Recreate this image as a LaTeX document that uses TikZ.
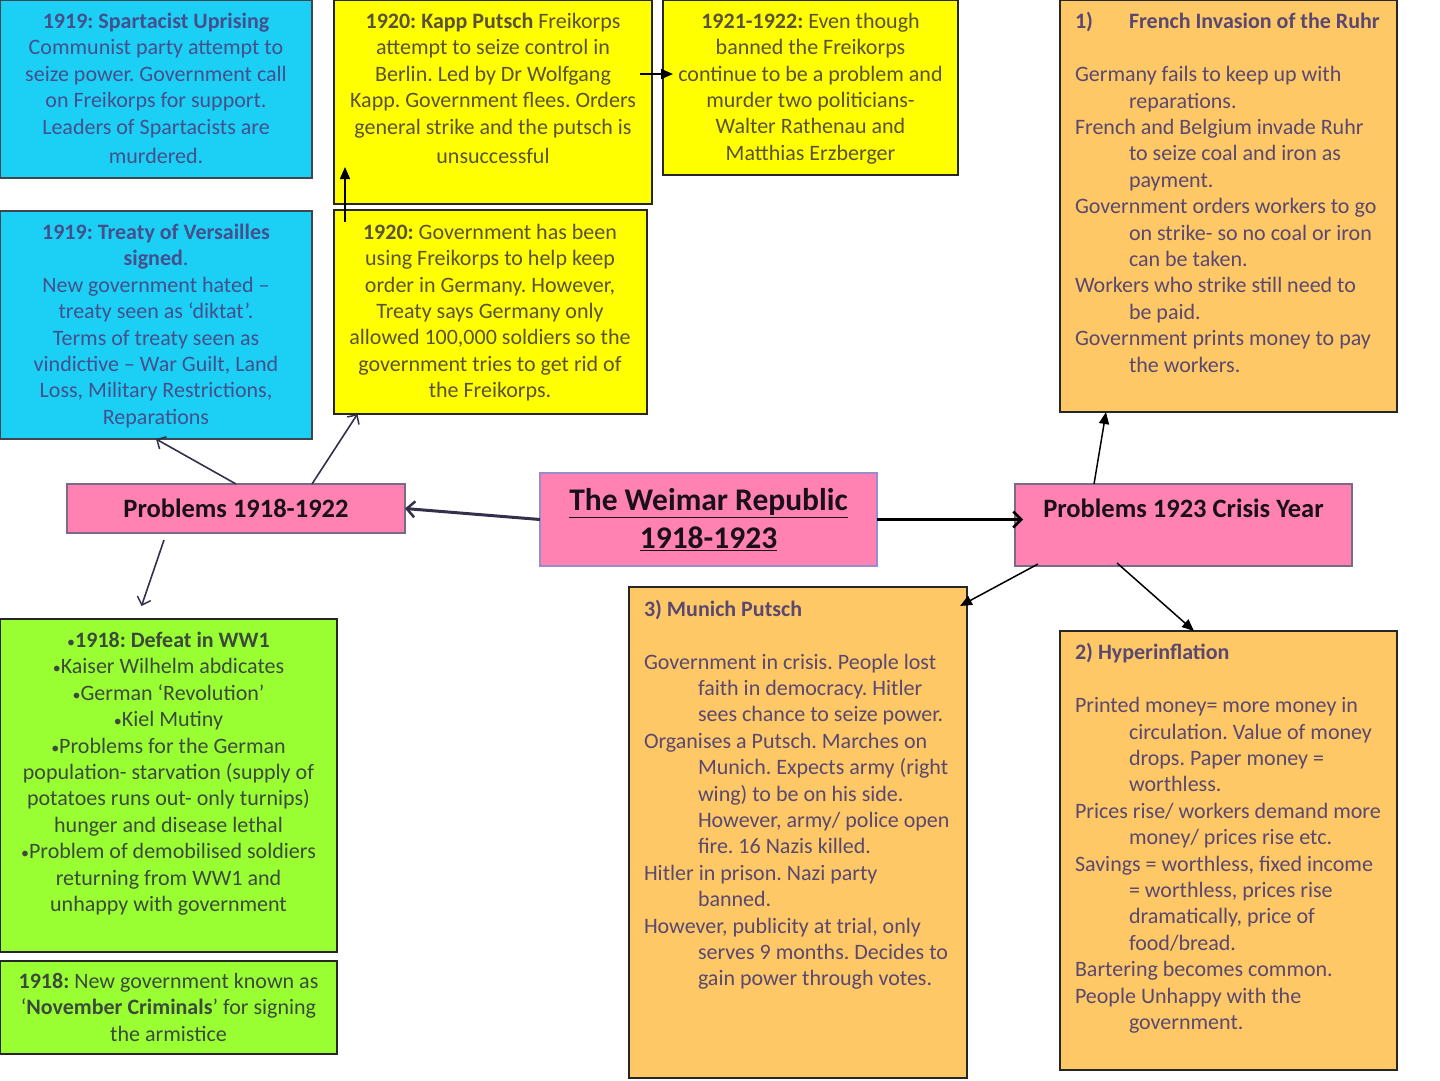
\documentclass[tikz,border=0pt]{standalone}
\usepackage{fontspec}
\setmainfont{Carlito}
\usetikzlibrary{arrows.meta}
\frenchspacing
\definecolor{cyanbox}{HTML}{1CCFF5}
\definecolor{yelbox}{HTML}{FFFF00}
\definecolor{orabox}{HTML}{FDC865}
\definecolor{grnbox}{HTML}{99FF33}
\definecolor{pinkbox}{HTML}{FF82B2}
\definecolor{cyantext}{HTML}{44508C}
\definecolor{yeltext}{HTML}{5A5236}
\definecolor{oratext}{HTML}{5A4870}
\definecolor{grntext}{HTML}{3C4A3C}
\definecolor{headtext}{HTML}{1A0F1A}
\definecolor{arrowdark}{HTML}{34304A}
\definecolor{pinkborder}{HTML}{7A6A8A}
\definecolor{lavborder}{HTML}{9A8ACF}
\tikzset{
  box/.style={draw=black!85, line width=1.5pt, rectangle, inner sep=0pt, outer sep=0pt, anchor=north west},
  txt/.style={inner sep=0pt, outer sep=0pt, font=\fontsize{22}{26.4}\selectfont\frenchspacing},
  ctxt/.style={txt, align=center, anchor=north},
  ltxt/.style={txt, align=left, anchor=north west},
  openarrow/.style={-{Straight Barb[length=7pt,width=14pt,line width=1.5pt]}, line width=1.6pt, draw=arrowdark},
  thickarrow/.style={-{Straight Barb[length=8pt,width=16pt,line width=2.5pt]}, line width=3pt},
  filledarrow/.style={-{Triangle[length=12pt,width=10pt]}, line width=1.5pt, draw=black}
}
\newcommand{\ind}{\hspace*{54pt}}
\newcommand{\smbul}{{\fontsize{16}{16}\selectfont •}}
\begin{document}
\begin{tikzpicture}[x=1pt,y=-1pt]
\useasboundingbox[fill=white] (0,0) rectangle (1440,1080);

% ---- boxes ----
\node[box, fill=cyanbox, draw=black!80!cyan, minimum width=312pt, minimum height=178pt] (b1) at (0,0) {};
\node[box, fill=cyanbox, draw=black!80!cyan, minimum width=312pt, minimum height=228pt] (b2) at (0,211) {};
\node[box, fill=yelbox, minimum width=318pt, minimum height=204pt] (y1) at (334,0) {};
\node[box, fill=yelbox, minimum width=295pt, minimum height=175pt] (y2) at (663,0) {};
\node[box, fill=yelbox, minimum width=313pt, minimum height=204pt] (y3) at (334,210) {};
\node[box, fill=orabox, minimum width=337pt, minimum height=412pt] (o1) at (1060,0) {};
\node[box, fill=orabox, minimum width=338pt, minimum height=491pt] (mu) at (629,587) {};
\node[box, fill=orabox, minimum width=337pt, minimum height=439pt] (hy) at (1060,631) {};
\node[box, fill=grnbox, minimum width=337pt, minimum height=333pt] (g1) at (0,619) {};
\node[box, fill=grnbox, minimum width=337pt, minimum height=93pt] (g2) at (0,961) {};
\node[box, fill=pinkbox, draw=pinkborder, minimum width=338pt, minimum height=49pt,
      font=\fontsize{26.5}{30}\selectfont\bfseries, text=headtext] (p1) at (67,484) {Problems 1918-1922};
\node[box, fill=pinkbox, draw=lavborder, minimum width=337pt, minimum height=93pt, align=center,
      font=\fontsize{31.5}{38}\selectfont\bfseries, text=headtext] (c) at (540,473)
      {\underline{The Weimar Republic}\\\underline{1918-1923}};
\node[box, fill=pinkbox, draw=pinkborder, minimum width=337pt, minimum height=82pt] (p2) at (1015,484) {};
\node[txt, font=\fontsize{26.5}{30}\selectfont\bfseries, text=headtext] (p2t) at (1183.5,508) {Problems 1923 Crisis Year};

% ---- texts ----
\node[ctxt, text=cyantext] (b1t) at (156,13) {\textbf{1919: Spartacist Uprising}\\
Communist party attempt to\\
seize power. Government call\\
on Freikorps for support.\\
Leaders of Spartacists are\\[3pt]
murdered.};
\node[ctxt, text=cyantext] (b2t) at (156,224) {\textbf{1919: Treaty of Versailles}\\
\textbf{signed}.\\
New government hated –\\
treaty seen as ‘diktat’.\\
Terms of treaty seen as\\
vindictive – War Guilt, Land\\
Loss, Military Restrictions,\\
Reparations};
\node[ctxt, text=yeltext] (y1t) at (493,13) {\textbf{1920: Kapp Putsch} Freikorps\\
attempt to seize control in\\
Berlin. Led by Dr Wolfgang\\
Kapp. Government flees. Orders\\
general strike and the putsch is\\[3pt]
unsuccessful};
\node[ctxt, text=yeltext] (y2t) at (810.5,13) {\textbf{1921-1922:} Even though\\
banned the Freikorps\\
continue to be a problem and\\
murder two politicians-\\
Walter Rathenau and\\
Matthias Erzberger};
\node[ctxt, text=yeltext] (y3t) at (490,224) {\textbf{1920:} Government has been\\
using Freikorps to help keep\\
order in Germany. However,\\
Treaty says Germany only\\
allowed 100,000 soldiers so the\\
government tries to get rid of\\
the Freikorps.};
\node[ltxt, text=oratext] (o1t) at (1075,12.5) {\makebox[54pt][l]{\textbf{1)}}\textbf{French Invasion of the Ruhr}\\[26.4pt]
Germany fails to keep up with\\
\ind reparations.\\
French and Belgium invade Ruhr\\
\ind to seize coal and iron as\\
\ind payment.\\
Government orders workers to go\\
\ind on strike- so no coal or iron\\
\ind can be taken.\\
Workers who strike still need to\\
\ind be paid.\\
Government prints money to pay\\
\ind the workers.};
\node[ltxt, text=oratext] (mut) at (644,600) {\textbf{3) Munich Putsch}\\[26.4pt]
Government in crisis. People lost\\
\ind faith in democracy. Hitler\\
\ind sees chance to seize power.\\
Organises a Putsch. Marches on\\
\ind Munich. Expects army (right\\
\ind wing) to be on his side.\\
\ind However, army/ police open\\
\ind fire. 16 Nazis killed.\\
Hitler in prison. Nazi party\\
\ind banned.\\
However, publicity at trial, only\\
\ind serves 9 months. Decides to\\
\ind gain power through votes.};
\node[ltxt, text=oratext] (hyt) at (1075,643.5) {\textbf{2) Hyperinflation}\\[26.4pt]
Printed money= more money in\\
\ind circulation. Value of money\\
\ind drops. Paper money =\\
\ind worthless.\\
Prices rise/ workers demand more\\
\ind money/ prices rise etc.\\
Savings = worthless, fixed income\\
\ind = worthless, prices rise\\
\ind dramatically, price of\\
\ind food/bread.\\
Bartering becomes common.\\
People Unhappy with the\\
\ind government.};
\node[ctxt, text=grntext] (g1t) at (168.5,632) {\smbul\textbf{1918: Defeat in WW1}\\
\smbul Kaiser Wilhelm abdicates\\
\smbul German ‘Revolution’\\
\smbul Kiel Mutiny\\
\smbul Problems for the German\\
population- starvation (supply of\\
potatoes runs out- only turnips)\\
hunger and disease lethal\\
\smbul Problem of demobilised soldiers\\
returning from WW1 and\\
unhappy with government};
\node[ctxt, text=grntext] (g2t) at (168.5,973) {\textbf{1918:} New government known as\\
‘\textbf{November Criminals}’ for signing\\
the armistice};

% ---- connectors ----
\draw[thickarrow, draw=arrowdark] (c.west) -- (p1.east);
\draw[thickarrow, draw=black] (c.east) -- ([xshift=8pt]c.east -| p2.west);
\draw[openarrow] (p1.north) -- (b2.south);
\draw[openarrow] ([xshift=76pt]p1.north) -- ([xshift=-133pt]y3.south);
\draw[openarrow] ([xshift=-72pt,yshift=-7pt]p1.south) -- ([xshift=-27pt,yshift=13pt]g1.north);
\draw[filledarrow] ([xshift=11pt,yshift=-12pt]y3.north west) -- ([xshift=11pt,yshift=37pt]y1.south west);
\draw[filledarrow] ([xshift=-12pt,yshift=-74pt]y1.north east) -- ([xshift=10pt,yshift=-74pt]y2.north west);
\draw[filledarrow] ([xshift=-89.5pt]p2.north) -- ([xshift=-122.5pt]o1.south);
\draw[filledarrow] ([xshift=-145.5pt,yshift=2pt]p2.south) -- ([xshift=-7pt,yshift=-19pt]mu.north east);
\draw[filledarrow] ([xshift=-66.5pt,yshift=3pt]p2.south) -- ([xshift=-34.5pt]hy.north);
\end{tikzpicture}
\end{document}
